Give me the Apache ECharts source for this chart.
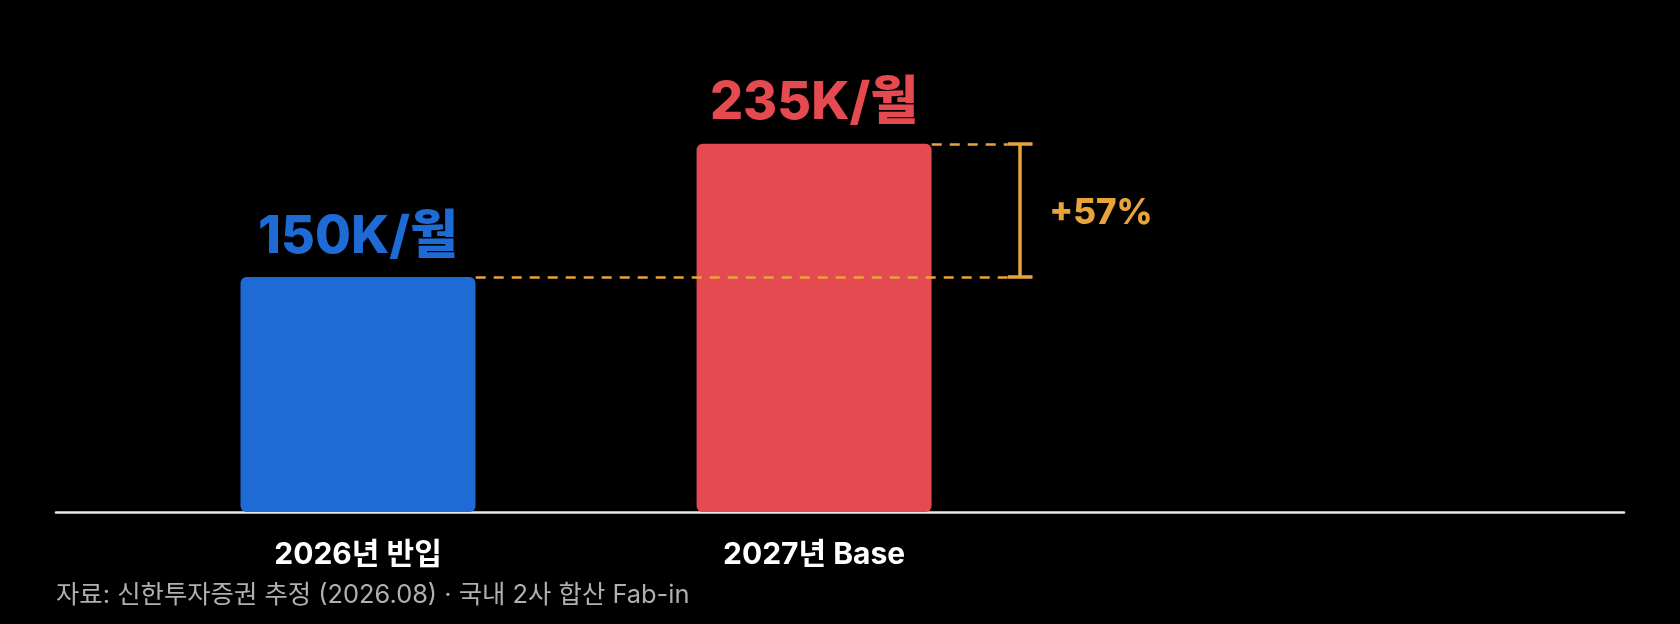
<!DOCTYPE html>
<html>
<head>
<meta charset="utf-8">
<script src="https://cdn.jsdelivr.net/npm/echarts@6/dist/echarts.min.js"></script>
<style>
  html, body { margin: 0; padding: 0; background: #000; }
  #chart { width: 1680px; height: 624px; }
</style>
</head>
<body>
<div id="chart"></div>
<script>
// data
var categories = ['2026년 반입', '2027년 Base'];
var values = [150, 235];
var valueLabels = ['150K/월', '235K/월'];
var barColors = ['#1E6BD6', '#E54A50'];
var note = '자료: 신한투자증권 추정 (2026.08) · 국내 2사 합산 Fab-in';

var FONT = 'Inter, "Noto Sans CJK KR", sans-serif';
var ORANGE = '#E9A33B';

// bars sit at x = 0, 1 on a value axis, so the axis line can run wider than the bars
var halfBar = 0.258;       // half of bar width in x units
var dashEnd = 1.425;       // where the dashed guides stop
var bracketX = 1.452;      // vertical bracket
var capEnd = 1.479;

var growth = Math.round((values[1] / values[0] - 1) * 100);

var dashStyle = { color: ORANGE, type: [10, 8], width: 2.5 };
var solidStyle = { color: ORANGE, type: 'solid', width: 3.5 };

var chart = echarts.init(document.getElementById('chart'));

var option = {
  backgroundColor: '#000',
  animation: false,
  title: {
    text: note,
    left: 56,
    top: 583,
    padding: 0,
    textStyle: { color: '#B0B0B0', fontSize: 25.4, fontWeight: 'normal', fontFamily: FONT }
  },
  grid: { left: 56, right: 56, top: 42, bottom: 112 },
  xAxis: {
    type: 'value',
    min: -0.6623,
    max: 2.776,
    splitLine: { show: false },
    axisTick: { show: false },
    axisLine: { show: true, lineStyle: { color: '#E8E8E8', width: 2.5 } },
    axisLabel: {
      customValues: [0, 1],
      formatter: function (v) { return categories[Math.round(v)]; },
      color: '#fff',
      fontSize: 30,
      fontWeight: 'bold',
      fontFamily: FONT,
      margin: 28
    }
  },
  yAxis: {
    type: 'value',
    min: 0,
    max: 300,
    show: false
  },
  series: [{
    type: 'bar',
    barWidth: 235,
    data: values.map(function (v, i) {
      return {
        value: [i, v],
        itemStyle: { color: barColors[i], borderRadius: 6 },
        label: { color: barColors[i] }
      };
    }),
    label: {
      show: true,
      position: 'top',
      distance: 14,
      fontSize: 52,
      fontWeight: 800,
      fontFamily: FONT,
      formatter: function (p) { return valueLabels[p.dataIndex]; }
    },
    markLine: {
      silent: true,
      symbol: ['none', 'none'],
      label: { show: false },
      z: 5,
      data: [
        [{ coord: [halfBar, values[0]], lineStyle: dashStyle }, { coord: [dashEnd, values[0]] }],
        [{ coord: [1 + halfBar, values[1]], lineStyle: dashStyle }, { coord: [dashEnd, values[1]] }],
        [{ coord: [bracketX, values[0]], lineStyle: solidStyle }, { coord: [bracketX, values[1]] }],
        [{ coord: [dashEnd, values[0]], lineStyle: solidStyle }, { coord: [capEnd, values[0]] }],
        [{ coord: [dashEnd, values[1]], lineStyle: solidStyle }, { coord: [capEnd, values[1]] }]
      ]
    },
    markPoint: {
      silent: true,
      symbol: 'circle',
      symbolSize: 0,
      data: [{
        coord: [bracketX, (values[0] + values[1]) / 2],
        label: {
          show: true,
          position: 'right',
          distance: 29,
          offset: [0, 3],
          formatter: '+' + growth + '%',
          color: ORANGE,
          fontSize: 35,
          fontWeight: 800,
          fontFamily: FONT
        }
      }]
    }
  }]
};

chart.setOption(option);
</script>
</body>
</html>
